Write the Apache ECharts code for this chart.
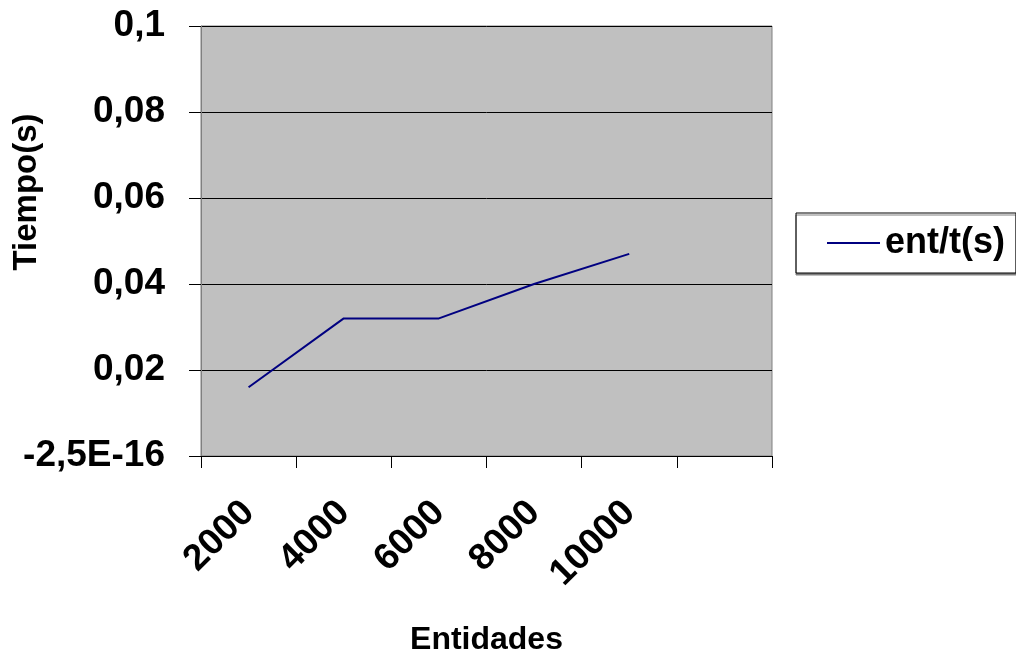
<!DOCTYPE html>
<html>
<head>
<meta charset="utf-8">
<script src="https://cdn.jsdelivr.net/npm/echarts@6/dist/echarts.min.js"></script>
<style>
html,body{margin:0;padding:0;background:#fff;}
#chart{width:1016px;height:657px;}
</style>
</head>
<body>
<div id="chart"></div>
<script>
var categories = ['2000', '4000', '6000', '8000', '10000', ''];
var seriesName = 'ent/t(s)';
var values = [0.016, 0.032, 0.032, 0.040, 0.047, null];
var yTickLabels = ['-2,5E-16', '0,02', '0,04', '0,06', '0,08', '0,1'];
var xTitle = 'Entidades';
var yTitle = 'Tiempo(s)';

var FONT = 'Liberation Sans, Arial, sans-serif';
var chart = echarts.init(document.getElementById('chart'), null, {renderer: 'canvas'});
chart.setOption({
  animation: false,
  backgroundColor: '#ffffff',
  grid: {
    left: 201, top: 26, width: 571, height: 430,
    outerBoundsMode: 'none', containLabel: false,
    show: true, backgroundColor: '#c0c0c0', borderColor: '#808080', borderWidth: 1
  },
  legend: {
    left: 796, top: 213,
    padding: [12, 11, 12, 31],
    itemWidth: 53, itemHeight: 36, itemGap: 0,
    backgroundColor: '#ffffff',
    borderColor: '#000000', borderWidth: 1,
    shadowColor: '#808080', shadowOffsetX: 0, shadowOffsetY: 2, shadowBlur: 0,
    textStyle: {fontFamily: FONT, fontWeight: 'bold', fontSize: 36, color: '#000'},
    data: [{name: seriesName, icon: 'path://M0,0 L53,0 L53,2 L0,2 Z'}]
  },
  xAxis: {
    type: 'category',
    data: categories,
    boundaryGap: true,
    name: xTitle,
    nameLocation: 'middle',
    nameGap: 168,
    nameTextStyle: {fontFamily: FONT, fontWeight: 'bold', fontSize: 32, color: '#000'},
    axisLine: {lineStyle: {color: '#000', width: 1}},
    axisTick: {show: true, inside: false, length: 12, alignWithLabel: false, lineStyle: {color: '#000'}},
    axisLabel: {rotate: 45, margin: 51, fontFamily: FONT, fontWeight: 'bold', fontSize: 37, color: '#000', interval: 0},
    splitLine: {show: false}
  },
  yAxis: {
    type: 'value',
    min: 0, max: 0.1, interval: 0.02,
    axisLine: {show: true, lineStyle: {color: '#808080', width: 1}},
    axisTick: {show: true, inside: false, length: 12, lineStyle: {color: '#000'}},
    axisLabel: {
      margin: 36, fontFamily: FONT, fontWeight: 'bold', fontSize: 37, color: '#000',
      formatter: function (v) { return yTickLabels[Math.round(v / 0.02)]; }
    },
    splitLine: {show: true, lineStyle: {color: '#000', width: 1}}
  },
  graphic: [{
    type: 'text',
    x: 27, y: 192,
    rotation: Math.PI / 2,
    style: {text: yTitle, fontFamily: FONT, fontWeight: 'bold', fontSize: 33, fill: '#000', align: 'center', verticalAlign: 'middle'}
  }],
  series: [{
    name: seriesName,
    type: 'line',
    data: values,
    symbol: 'none',
    connectNulls: false,
    lineStyle: {color: '#000080', width: 2},
    itemStyle: {color: '#000080'}
  }]
});
</script>
</body>
</html>
